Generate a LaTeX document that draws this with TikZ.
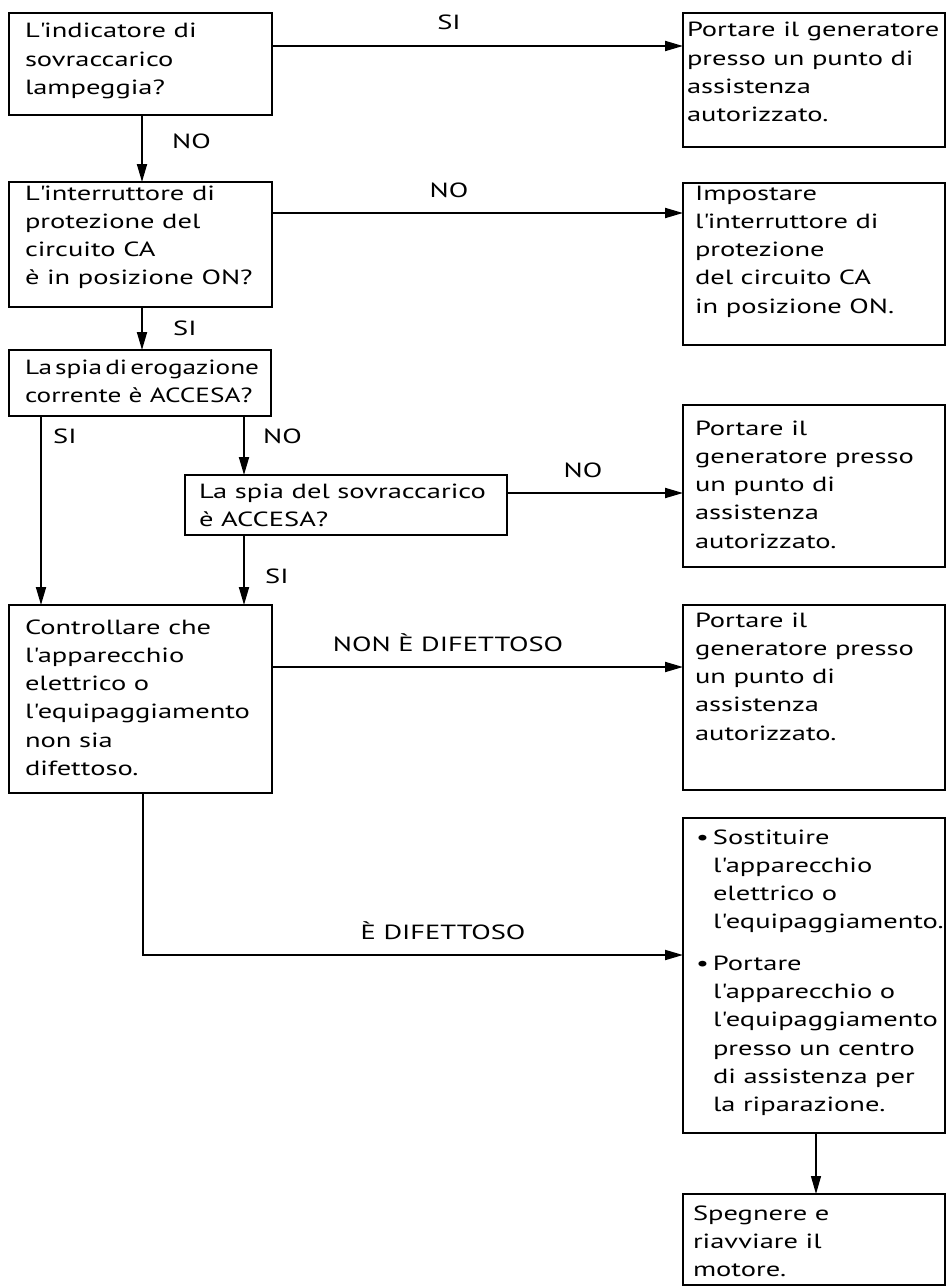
\documentclass[tikz,border=0pt]{standalone}
\usepackage{fontspec}
\setmainfont{PT Sans}[FakeStretch=1.39]
\newfontfamily\tightfont{PT Sans}[FakeStretch=1.33]
\usetikzlibrary{arrows.meta}
\newcommand\ap{\textquotesingle}
\newcommand\bx[4]{\begin{minipage}[t][#2pt][t]{#1pt}\raggedright\vspace*{\dimexpr#3pt-0.7\baselineskip\relax}\strut#4\end{minipage}}
\newcommand\bul[1]{\noindent\makebox[18pt][l]{\hspace{1pt}\textbullet}\parbox[t]{220pt}{\raggedright\strut#1\strut}}
\begin{document}
\begin{tikzpicture}[x=1pt,y=-1pt,
  font=\fontsize{20.5}{28.3}\selectfont,
  box/.style={draw, line width=2.8pt, rectangle, inner ysep=0pt, inner xsep=#1, outer sep=0pt, anchor=north west},
  box/.default=16pt,
  arr/.style={line width=1.9pt, -{Triangle[length=18pt,width=10pt]}},
  thinarr/.style={line width=1.2pt, -{Triangle[length=18pt,width=10pt]}},
  lbl/.style={inner sep=0pt, anchor=base west},
  clbl/.style={inner sep=0pt, anchor=base}]
\useasboundingbox (0,0) rectangle (946,1287);
% left column
\node[box=16pt] (q1) at (9,13) {\bx{231}{102}{25}{L\ap indicatore di\\sovraccarico\\lampeggia?}};
\node[box=16pt] (q2) at (9,182) {\bx{231}{125}{18}{L\ap interruttore di\\protezione del\\circuito CA\\è in posizione ON?}};
\node[box=16pt] (q3) at (9,350) {\bx{230}{66}{24}{\mbox{\tightfont\spaceskip=0.15em La spia di erogazione}\\\mbox{\tightfont corrente è ACCESA?}}};
\node[box=14pt] (q4) at (185,475) {\bx{294}{60}{23}{La spia del sovraccarico\\è ACCESA?}};
\node[box=16pt] (q5) at (9,605) {\bx{231}{188}{29}{Controllare che\\l\ap apparecchio\\elettrico o\\l\ap equipaggiamento\\non sia\\difettoso.}};
% right column
\node[box=4pt] (r1) at (683,13) {\bx{254}{134}{24}{Portare il generatore\\presso un punto di\\assistenza\\autorizzato.}};
\node[box=12pt] (r2) at (683,183) {\bx{238}{162}{17}{Impostare\\l\ap interruttore di\\protezione\\del circuito CA\\in posizione ON.}};
\node[box=12pt] (r3) at (683,405) {\bx{238}{162}{30}{Portare il\\generatore presso\\un punto di\\assistenza\\autorizzato.}};
\node[box=12pt] (r4) at (683,605) {\bx{238}{185}{22}{Portare il\\generatore presso\\un punto di\\assistenza\\autorizzato.}};
\node[box=12pt] (r5) at (683,818) {\begin{minipage}[t][315pt][t]{238pt}\vspace*{\dimexpr26pt-0.7\baselineskip\relax}%
\bul{Sostituire\\l\ap apparecchio\\elettrico o\\l\ap equipaggiamento.}\par
\vspace{12pt}%
\bul{Portare\\l\ap apparecchio o\\l\ap equipaggiamento\\presso un centro\\di assistenza per\\la riparazione.}\end{minipage}};
\node[box=10pt] (r6) at (683,1194) {\bx{242}{91}{26}{Spegnere e\\riavviare il\\motore.}};
% helper coordinates
\coordinate (c1) at (142,0);
\coordinate (c2) at (41,0);
\coordinate (c3) at (244,0);
\coordinate (c4) at (816,0);
\coordinate (k) at (143,955);
\coordinate (h1) at (0,46);
\coordinate (h2) at (0,213);
\coordinate (h3) at (0,493);
\coordinate (h4) at (0,667);
% connectors
\draw[arr] (q1.east |- h1) -- (r1.west |- h1);
\draw[arr] (q1.south -| c1) -- (q2.north -| c1);
\draw[arr] (q2.east |- h2) -- (r2.west |- h2);
\draw[arr] (q2.south -| c1) -- (q3.north -| c1);
\draw[arr] (q3.south -| c2) -- (q5.north -| c2);
\draw[arr] (q3.south -| c3) -- (q4.north -| c3);
\draw[arr] (q4.east |- h3) -- (r3.west |- h3);
\draw[arr] (q4.south -| c3) -- (q5.north -| c3);
\draw[arr] (q5.east |- h4) -- (r4.west |- h4);
\draw[arr] (q5.south -| k) -- (k) -- (k -| r5.west);
\draw[thinarr] (r5.south -| c4) -- (r6.north -| c4);
% labels
\node[clbl] (t1) at (449,30) {SI};
\node[lbl] (t2) at (172,148) {NO};
\node[clbl] (t3) at (449,197) {NO};
\node[lbl] (t4) at (173,335) {SI};
\node[lbl] (t5) at (53,443) {SI};
\node[lbl] (t6) at (263,443) {NO};
\node[clbl] (t7) at (583,477) {NO};
\node[lbl] (t8) at (265,583) {SI};
\node[clbl] (t9) at (448,651) {NON È DIFETTOSO};
\node[clbl] (t10) at (443,939) {È DIFETTOSO};
\end{tikzpicture}
\end{document}
